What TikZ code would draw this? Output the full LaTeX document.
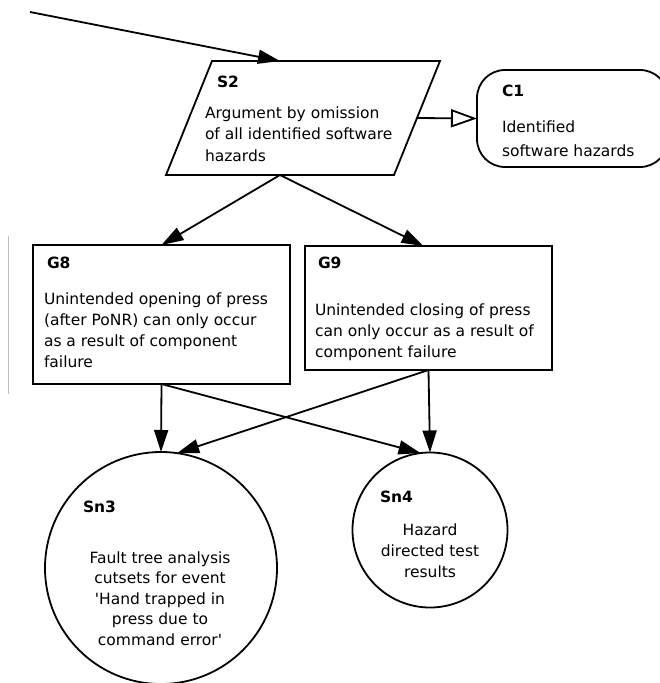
\documentclass[tikz,border=0pt]{standalone}
\usepackage{fontspec}
\setmainfont{DejaVu Sans}
\usetikzlibrary{arrows.meta,calc}
\begin{document}
\begin{tikzpicture}[x=1pt,y=-1pt,
  every node/.style={inner sep=0pt,outer sep=0pt},
  shape line/.style={draw,line width=1.8pt},
  body/.style={anchor=base west,align=left,font=\fontsize{15.5}{21.5}\selectfont},
  cbody/.style={anchor=base,align=center,font=\fontsize{15.5}{21}\selectfont},
  ident/.style={anchor=base west,font=\fontsize{15.5}{21}\selectfont\bfseries},
  link/.style={line width=1.8pt,-{Triangle[length=22pt,width=14pt]}},
  ctxlink/.style={line width=1.8pt,-{Triangle[open,length=26pt,width=18pt]}},
]
\useasboundingbox (0,0) rectangle (660,683);

% strategy S2: a parallelogram drawn over the extent of node s2
\node[minimum width=274pt,minimum height=114pt] (s2) at (303,118) {};
\draw[shape line,line join=miter] ([xshift=46pt]s2.north west) -- (s2.north east)
  -- ([xshift=-46pt]s2.south east) -- (s2.south west) -- cycle;

% goals, context and solutions
\node[shape line,rounded corners=28pt,minimum width=191pt,minimum height=97pt] (c1) at (572.5,118.5) {};
\node[shape line,minimum width=257pt,minimum height=139pt] (g8) at (161.5,314.5) {};
\node[shape line,minimum width=247pt,minimum height=124pt] (g9) at (428.5,308) {};
\node[shape line,circle,minimum size=232pt] (sn3) at (161,568) {};
\node[shape line,circle,minimum size=155pt] (sn4) at (430,530) {};

% labels and statements (multi-line texts are placed by their last baseline)
\node[ident] (s2id) at (217,87) {S2};
\node[body] (s2txt) at (205,161) {Argument by omission\\of all identified software\\hazards};
\node[ident] (c1id) at (502,96) {C1};
\node[body,font=\fontsize{15.5}{24}\selectfont] (c1txt) at (502,156) {Identified\\software hazards};
\node[ident] (g8id) at (47,268) {G8};
\node[body,font=\fontsize{15.5}{20.7}\selectfont] (g8txt) at (44,367) {Unintended opening of press\\(after PoNR) can only occur\\as a result of component\\failure};
\node[ident] (g9id) at (318,268) {G9};
\node[body,font=\fontsize{15.5}{21}\selectfont] (g9txt) at (315,357) {Unintended closing of press\\can only occur as a result of\\component failure};
\node[ident] (sn3id) at (83,512) {Sn3};
\node[cbody,font=\fontsize{15.5}{20.5}\selectfont] (sn3txt) at (160,645) {Fault tree analysis\\cutsets for event\\\textquotesingle Hand trapped in\\press due to\\command error\textquotesingle};
\node[ident] (sn4id) at (380,502) {Sn4};
\node[cbody] (sn4txt) at (430,577) {Hazard\\directed test\\results};

% connectors
\coordinate (upper) at (30,12);
\draw[link] (upper) -- ([xshift=-23pt]s2.north);
\draw[ctxlink] ([xshift=-23pt]s2.east) -- (c1.west);
\draw[link] ([xshift=-23pt]s2.south) -- (g8.north);
\draw[link] ([xshift=-23pt]s2.south) -- ([xshift=-5pt]g9.north);
\draw[link] (g8.south) -- (sn3.north);
\draw[link] (g8.south) -- (sn4.97);
\draw[link] (g9.south) -- (sn4.north);
\draw[link] (g9.south) -- (sn3.82);

% faint edge at the left margin
\draw[black!25,line width=0.8pt] (8,236) -- (8,394);
\end{tikzpicture}
\end{document}
